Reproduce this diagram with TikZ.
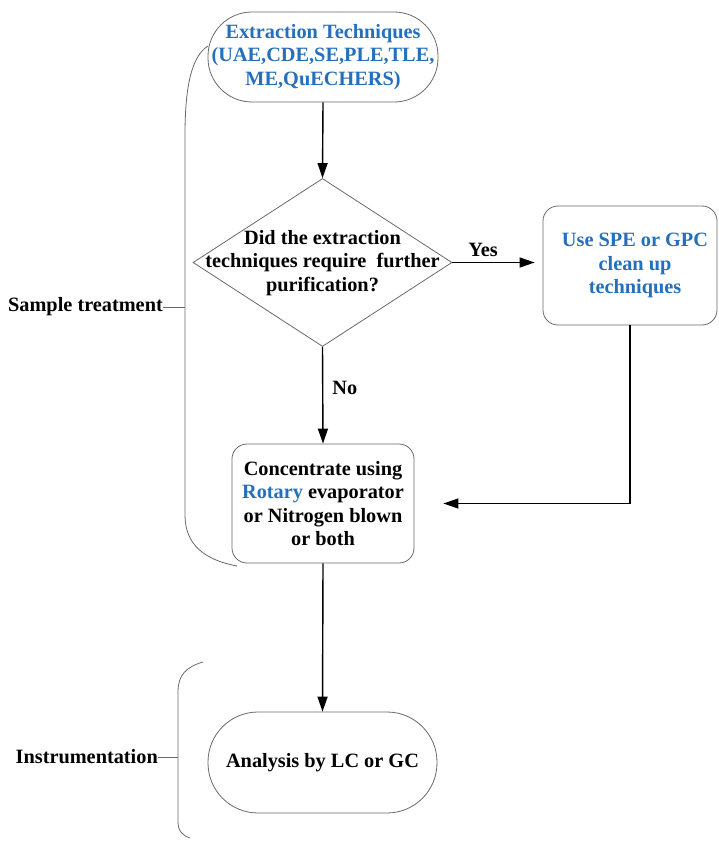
\documentclass[tikz,border=0pt]{standalone}
\usepackage{fontspec}
\setmainfont{Liberation Serif}
\usetikzlibrary{shapes.geometric,arrows.meta}
\definecolor{tblue}{RGB}{38,112,187}
\definecolor{lgray}{RGB}{105,105,105}
\begin{document}
\begin{tikzpicture}[x=1pt,y=-1pt,
  every node/.style={font=\bfseries\fontsize{20.3}{23.5}\selectfont, align=center, inner sep=0pt},
  shapebox/.style={draw=lgray, line width=0.8pt},
  arr/.style={draw=black, line width=1.4pt, -{Triangle[length=15pt,width=10pt]}},
  bracket/.style={draw=lgray, line width=0.8pt}]
\useasboundingbox (0,0) rectangle (718,842);
\fill[white] (0,0) rectangle (718,842);
% nodes
\node[shapebox, rounded corners=44pt, minimum width=230pt, minimum height=90pt, text=tblue] (top) at (323,57)
  {Extraction Techniques\\(UAE,CDE,SE,PLE,TLE,\\ME,QuECHERS)};
\node[shapebox, diamond, minimum width=259pt, minimum height=168pt] (dia) at (322.5,262.5) {};
\node (diatext) at (322.5,263) {Did the extraction\\techniques require\ \ further\\purification?};
\node[shapebox, rounded corners=15pt, minimum width=174pt, minimum height=119pt, text=tblue] (spe) at (630,265.5)
  {\hspace*{10pt}Use SPE or GPC\\\hspace*{10pt}clean up\\\hspace*{10pt}techniques};
\node[shapebox, rounded corners=15pt, minimum width=182pt, minimum height=119pt] (conc) at (323,503.5)
  {Concentrate using\\{\color{tblue}Rotary} evaporator\\or Nitrogen blown\\or both};
\node[shapebox, rounded corners=50pt, minimum width=229pt, minimum height=101pt] (ana) at (322.5,762.5)
  {Analysis by LC or GC};
% connectors
\draw[arr, shorten >=8pt] (dia.east) -- (dia.east -| spe.west) node[pos=0.34, above=5pt] (yes) {Yes};
\draw[arr] (top.south) -- (dia.north);
\draw[arr] (dia.south) -- node[pos=0.42, right=9pt] (no) {No} (conc.north);
\draw[arr, shorten >=29pt] (spe.south) -- (spe.south |- conc.east) -- (conc.east);
\draw[arr] (conc.south) -- (ana.north);
% brackets
\coordinate (stick) at (163,307);
\coordinate (itick) at (158,757);
\draw[bracket] (208,46) .. controls (192,56) and (185,85) .. (185,135) -- (185,515) .. controls (185,545) and (205,560) .. (237,566);
\draw[bracket] (185,307) -- (stick);
\node[anchor=east] (st) at (stick) {Sample treatment};
\draw[bracket] (203,662) .. controls (186,667) and (178,675) .. (178,692) -- (178,822) .. controls (178,831) and (183,836) .. (190,838);
\draw[bracket] (178,757) -- (itick);
\node[anchor=east] (instr) at (itick) {Instrumentation};
\end{tikzpicture}
\end{document}
